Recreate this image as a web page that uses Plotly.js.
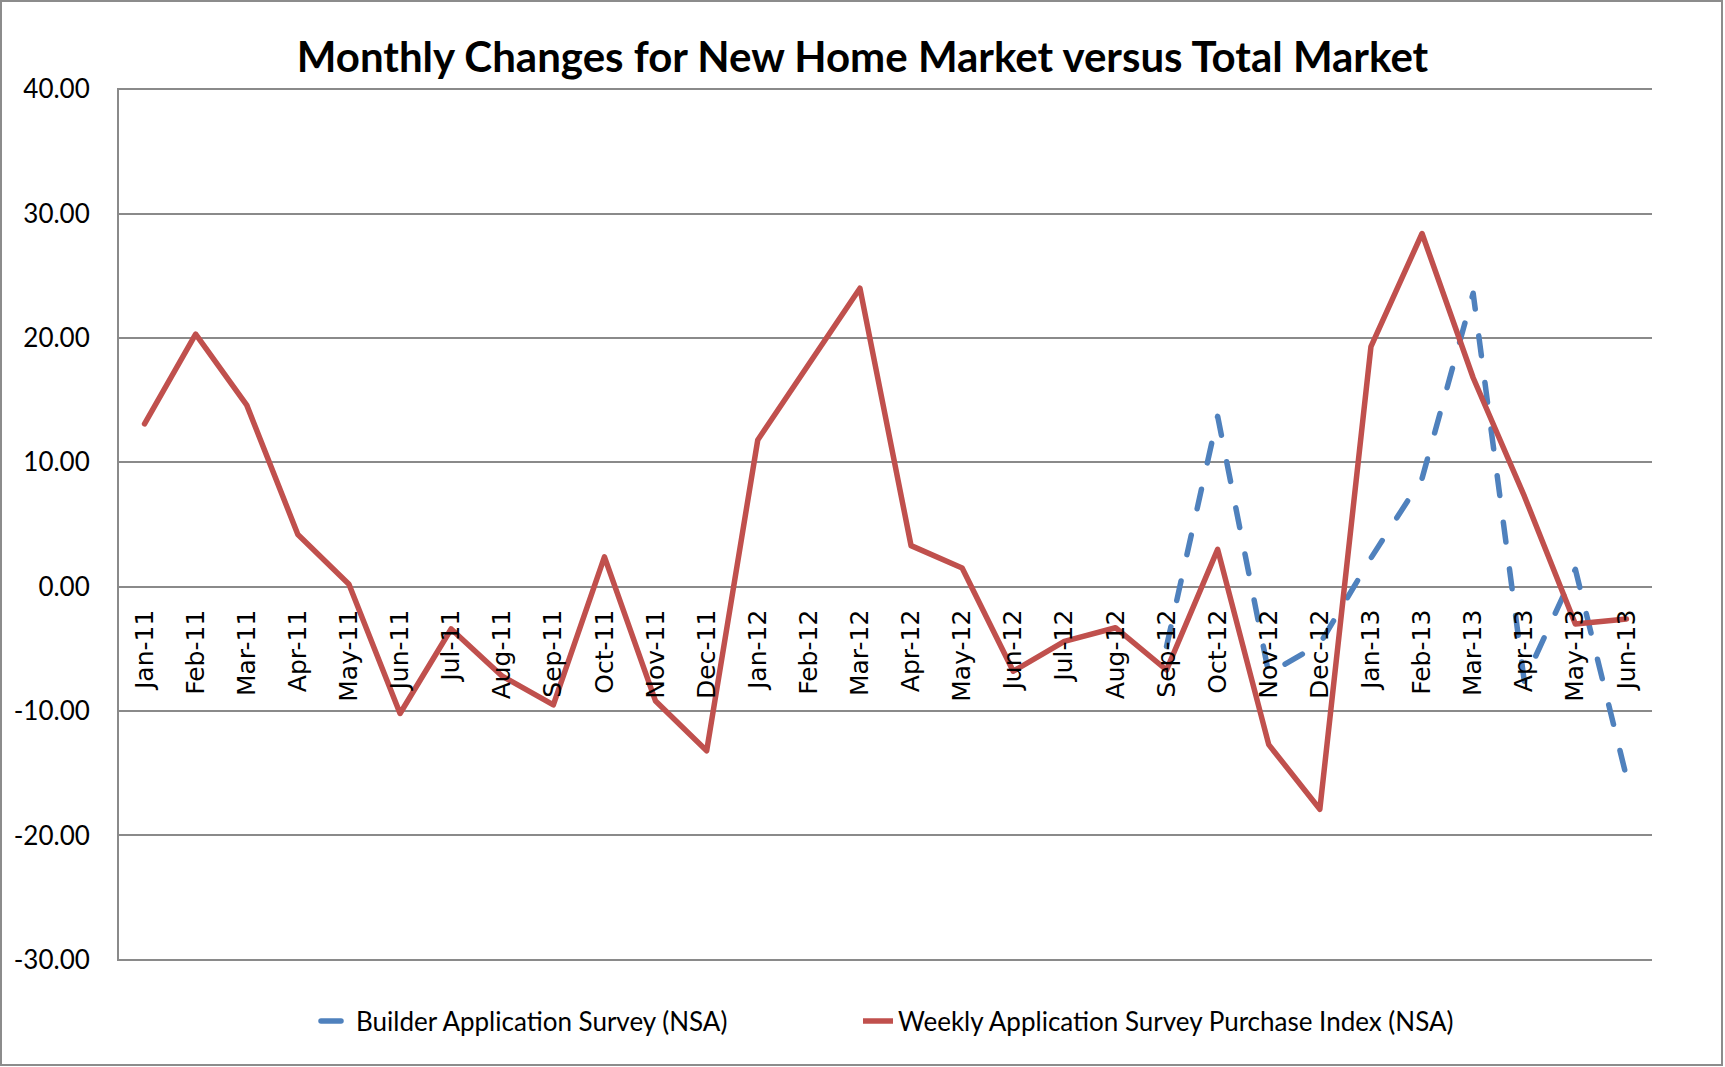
<!DOCTYPE html>
<html>
<head>
<meta charset="utf-8">
<script src="https://cdn.plot.ly/plotly-3.0.1.min.js"></script>
<style>
  html, body { margin: 0; padding: 0; background: #ffffff; }
  #wrap { position: relative; width: 1725px; height: 1067px; }
  #chart { width: 1725px; height: 1067px; }
  #frame { position: absolute; left: 0; top: 0; width: 1723px; height: 1066px;
           border: 2px solid #8c8c8c; box-sizing: border-box; pointer-events: none; }
  .scatterlayer .js-line, .legend .js-line { stroke-linecap: round; stroke-linejoin: round; }
</style>
</head>
<body>
<div id="wrap">
  <div id="chart"></div>
  <div id="frame"></div>
</div>
<script>
const months = ["Jan-11","Feb-11","Mar-11","Apr-11","May-11","Jun-11","Jul-11","Aug-11","Sep-11","Oct-11","Nov-11","Dec-11",
                "Jan-12","Feb-12","Mar-12","Apr-12","May-12","Jun-12","Jul-12","Aug-12","Sep-12","Oct-12","Nov-12","Dec-12",
                "Jan-13","Feb-13","Mar-13","Apr-13","May-13","Jun-13"];

const builderSurvey = [null,null,null,null,null,null,null,null,null,null,null,null,
                       null,null,null,null,null,null,null,null,-4.8,13.7,-7.0,-4.6,
                       2.3,8.7,23.6,-7.6,1.4,-15.3];

const weeklyPurchaseIndex = [13.1,20.3,14.6,4.2,0.2,-10.2,-3.4,-7.2,-9.5,2.4,-9.2,-13.2,
                             11.8,17.9,24.0,3.3,1.5,-6.8,-4.4,-3.3,-6.7,3.0,-12.7,-17.9,
                             19.3,28.4,16.8,7.3,-3.0,-2.6];

const seriesNames = ["Builder Application Survey (NSA)", "Weekly Application Survey Purchase Index (NSA)"];
const yTickVals = [-30,-20,-10,0,10,20,30,40];
const yTickText = ["-30.00","-20.00","-10.00","0.00","10.00","20.00","30.00","40.00"];
const chartTitle = "Monthly Changes for New Home Market versus Total Market";

const traces = [
  {
    x: months, y: builderSurvey, name: seriesNames[0], type: "scatter", mode: "lines",
    connectgaps: false, legend: "legend",
    line: { color: "#4F81BD", width: 5.5, dash: "20px,27px" }
  },
  {
    x: months, y: weeklyPurchaseIndex, name: seriesNames[1], type: "scatter", mode: "lines",
    legend: "legend2",
    line: { color: "#C0504D", width: 5.5 }
  }
];

const legendFont = { family: "Lato, Carlito, sans-serif", size: 26, color: "#000000" };

const layout = {
  width: 1725, height: 1067,
  paper_bgcolor: "#ffffff", plot_bgcolor: "#ffffff",
  margin: { l: 119, r: 73, t: 88, b: 106 },
  title: {
    text: "<b>" + chartTitle + "</b>",
    font: { family: "Lato, Carlito, 'Liberation Sans Narrow', sans-serif", size: 42, color: "#000000" },
    x: 0.5, xanchor: "center", xref: "container",
    y: 1 - 57/1067, yanchor: "middle", yref: "container"
  },
  xaxis: {
    type: "category",
    range: [-0.5, 29.5],
    anchor: "free",
    position: 30.1/70.2,
    showgrid: false, zeroline: false, showline: false,
    ticks: "", tickangle: -90,
    ticklabelstandoff: 17,
    tickfont: { family: "DejaVu Sans, sans-serif", size: 25, color: "#000000" }
  },
  yaxis: {
    range: [-30.1, 40.1],
    tickmode: "array", tickvals: yTickVals, ticktext: yTickText,
    showgrid: true, gridcolor: "#8a8a8a", gridwidth: 2,
    zeroline: false,
    showline: true, linecolor: "#8a8a8a", linewidth: 2,
    ticks: "", ticklabelstandoff: 22,
    tickfont: { family: "Lato, Carlito, sans-serif", size: 26, color: "#000000" }
  },
  showlegend: true,
  legend: {
    orientation: "h",
    xref: "container", x: 316/1725, xanchor: "left",
    yref: "container", y: 1 - 1021/1067, yanchor: "middle",
    font: legendFont,
    bgcolor: "rgba(0,0,0,0)"
  },
  legend2: {
    orientation: "h",
    xref: "container", x: 858/1725, xanchor: "left",
    yref: "container", y: 1 - 1021/1067, yanchor: "middle",
    font: legendFont,
    bgcolor: "rgba(0,0,0,0)"
  }
};

Plotly.newPlot("chart", traces, layout, { staticPlot: true, displayModeBar: false });
</script>
</body>
</html>
